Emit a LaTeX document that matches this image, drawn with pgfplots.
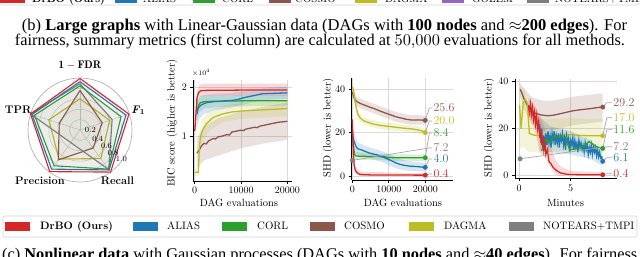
\documentclass[border=0pt]{standalone}
\usepackage{fontspec}
\usepackage{graphicx}
\usepackage{pgfplots}
\pgfplotsset{compat=1.18}
\newfontfamily\capfont{Liberation Serif}
\definecolor{tred}{HTML}{D62728}
\definecolor{tblue}{HTML}{1F77B4}
\definecolor{tgreen}{HTML}{2CA02C}
\definecolor{tbrown}{HTML}{8C564B}
\definecolor{tyellow}{HTML}{BCBD22}
\definecolor{tgray}{HTML}{7F7F7F}
\definecolor{tpurple}{HTML}{9467BD}
\pgfplotsset{
  myax/.style={scale only axis, anchor=south west, axis lines*=left,
    axis line style={black, line width=0.6pt, -}, tick align=outside,
    major tick length=3pt, tick style={black, line width=0.6pt},
    grid=major, grid style={gray!30, line width=0.6pt},
    tick label style={font=\fontsize{10}{12}\selectfont},
    label style={font=\fontsize{10.5}{12}\selectfont},
    /pgf/number format/1000 sep={}, scaled ticks=false, clip=false},
  ln/.style={line width=1.3pt},
  bd/.style={draw=none, fill opacity=0.18},
  mk/.style={only marks, mark=*, mark size=2.2pt},
  rd/.style={data cs=polar, line width=1.1pt, fill opacity=0.04},
}
\tikzset{
  ld/.style={gray!70, line width=0.7pt},
  vl/.style={anchor=west, inner sep=0pt, font=\fontsize{12}{13}\selectfont},
  rt/.style={font=\fontsize{8}{9}\selectfont, inner sep=0pt},
  rl/.style={font=\fontsize{11}{12}\selectfont, inner sep=0pt},
}
\begin{document}
\begin{tikzpicture}
\path[use as bounding box] (0pt,0pt) rectangle (640pt,257pt);
\clip (0pt,0pt) rectangle (640pt,257pt);
\begin{scope}[x=1pt,y=1pt]
% ---- sliver of previous legend
\draw[gray!35, fill=white, rounded corners=2pt, line width=0.6pt] (1,252) rectangle (639,280);
\begin{scope}[font=\fontsize{10.8}{12}\selectfont]
\fill[tred] (0,254.3) rectangle ++(25,12);
\node[anchor=base west, inner sep=0] at (32,254.5) {\textbf{DrBO (Ours)}};
\fill[tblue] (115,254.3) rectangle ++(22,12);
\node[anchor=base west, inner sep=0] at (143,254.5) {ALIAS};
\fill[tgreen] (193,254.3) rectangle ++(22,12);
\node[anchor=base west, inner sep=0] at (222,254.5) {CORL};
\fill[tbrown] (269,254.3) rectangle ++(22,12);
\node[anchor=base west, inner sep=0] at (295,254.5) {COSMO};
\fill[tyellow] (355,254.3) rectangle ++(22,12);
\node[anchor=base west, inner sep=0] at (385,254.5) {DAGMA};
\fill[tpurple] (442,254.3) rectangle ++(22,12);
\node[anchor=base west, inner sep=0] at (472,254.5) {GOLEM};
\fill[tgray] (527,254.3) rectangle ++(22,12);
\node[anchor=base west, inner sep=0] at (555,254.5) {NOTEARS+TMPI};
\end{scope}
% ---- captions
\node[anchor=base, inner sep=0] at (324.5,226) {\resizebox{605pt}{!}{\capfont (b) \textbf{Large graphs} with Linear-Gaussian data (DAGs with \textbf{100 nodes} and $\approx$\textbf{200 edges}). For}};
\node[anchor=base, inner sep=0] at (320,211) {\resizebox{610pt}{!}{\capfont fairness, summary metrics (first column) are calculated at $50{,}000$ evaluations for all methods.}};
\node[anchor=base west, inner sep=0] at (2,-2.5) {\resizebox{635pt}{!}{\capfont (c) \textbf{Nonlinear data} with Gaussian processes (DAGs with \textbf{10 nodes} and $\approx$\textbf{40 edges}). For fairness}};
% ---- radar grid (decoration)
\begin{scope}[shift={(80,127)}]
\foreach \r in {10.4,20.8,31.2,41.6} {\draw[gray!40, line width=0.5pt] (0,0) circle[radius=\r];}
\draw[gray!60, line width=0.7pt] (0,0) circle[radius=52];
\foreach \a in {18,90,162,234,306} {\draw[gray!40, line width=0.5pt] (0,0) -- (\a:52);}
\end{scope}
% ---- main legend
\draw[gray!35, fill=white, rounded corners=2pt, line width=0.6pt] (3,20) rectangle (637,41);
\begin{scope}[font=\fontsize{10.8}{12}\selectfont]
\fill[tred] (5,26) rectangle ++(25,9);
\node[anchor=base west, inner sep=0] at (40,27) {\textbf{DrBO (Ours)}};
\fill[tblue] (133,26) rectangle ++(25,9);
\node[anchor=base west, inner sep=0] at (167,27) {ALIAS};
\fill[tgreen] (222,26) rectangle ++(25,9);
\node[anchor=base west, inner sep=0] at (257,27) {CORL};
\fill[tbrown] (310,26) rectangle ++(25,9);
\node[anchor=base west, inner sep=0] at (344,27) {COSMO};
\fill[tyellow] (409,26) rectangle ++(25,9);
\node[anchor=base west, inner sep=0] at (444,27) {DAGMA};
\fill[tgray] (509,26) rectangle ++(25,9);
\node[anchor=base west, inner sep=0] at (543,27) {NOTEARS+TMPI};
\end{scope}
\end{scope}

% ---- radar data
\begin{axis}[at={(80pt,127pt)}, anchor=center, scale only axis, width=104pt, height=104pt,
  xmin=-1, xmax=1, ymin=-1, ymax=1, hide axis, clip=false]
\addplot[rd, draw=tyellow, fill=tyellow] coordinates {(90,0.60) (18,0.60) (306,0.68) (234,0.69) (162,0.63) (90,0.60)};
\addplot[rd, draw=tbrown, fill=tbrown] coordinates {(90,0.76) (18,0.45) (306,0.43) (234,0.71) (162,0.42) (90,0.76)};
\addplot[rd, draw=tgray, fill=tgray] coordinates {(90,0.89) (18,0.65) (306,0.94) (234,0.30) (162,1.0) (90,0.89)};
\addplot[rd, draw=tgreen, fill=tgreen] coordinates {(90,0.85) (18,0.83) (306,0.93) (234,0.85) (162,0.92) (90,0.85)};
\addplot[rd, draw=tblue, fill=tblue] coordinates {(90,0.93) (18,0.93) (306,0.95) (234,0.93) (162,0.97) (90,0.93)};
\addplot[rd, draw=tred, fill=tred] coordinates {(90,0.99) (18,0.99) (306,1.0) (234,0.99) (162,1.0) (90,0.99)};
\node[rt] at (axis cs:0.2,0) {0.2};
\node[rt] at (axis cs:0.34,-0.165) {0.4};
\node[rt] at (axis cs:0.51,-0.315) {0.6};
\node[rt] at (axis cs:0.64,-0.445) {0.8};
\node[rt] at (axis cs:0.795,-0.555) {1.0};
\node[rl] at (axis cs:0,1.25) {$\mathbf{1-FDR}$};
\node[rl] at (axis cs:1.12,0.38) {\textbf{\textit{F}}\textsubscript{\textbf{1}}};
\node[rl] at (axis cs:-1.19,0.39) {\textbf{TPR}};
\node[rl] at (axis cs:-0.77,-0.98) {\textbf{Precision}};
\node[rl] at (axis cs:0.72,-0.98) {\textbf{Recall}};
\end{axis}

% ---- BIC panel
\begin{axis}[myax, at={(193.3pt,76pt)}, width=98.7pt, height=101pt,
  xmin=-300, xmax=21000, ymin=0.082, ymax=2.143,
  xtick={0,10000,20000}, ytick={1,2},
  xlabel={DAG evaluations}, ylabel={BIC score (higher is better)},
  xlabel style={at={(axis description cs:0.463,-0.213)}, anchor=center},
  ylabel style={at={(axis description cs:-0.216,0.575)}, anchor=center}]
\addplot[bd, fill=tbrown] coordinates {(500,0.35) (2000,0.5) (5000,0.6) (10000,0.75) (15000,0.85) (20000,0.92) (20000,1.68) (15000,1.6) (10000,1.5) (5000,1.36) (2000,1.2) (500,0.95)};
\addplot[bd, fill=tyellow] coordinates {(0,0.18) (800,0.18) (1000,0.55) (1600,0.85) (3000,1.1) (6000,1.28) (10000,1.35) (20000,1.4) (20000,1.72) (10000,1.67) (6000,1.62) (3000,1.5) (1600,1.35) (1000,0.95) (800,0.34) (0,0.34)};
\addplot[bd, fill=tgreen] coordinates {(500,1.3) (1000,1.48) (2000,1.56) (6000,1.6) (20000,1.62) (20000,1.83) (6000,1.82) (2000,1.82) (1000,1.78) (500,1.7)};
\addplot[bd, fill=tblue] coordinates {(500,1.2) (1000,1.35) (2000,1.45) (4000,1.52) (8000,1.58) (12000,1.68) (16000,1.74) (20000,1.76) (20000,2.0) (16000,1.99) (12000,1.94) (8000,1.88) (4000,1.86) (2000,1.84) (1000,1.8) (500,1.7)};
\addplot[bd, fill=tred] coordinates {(0,0.95) (300,1.3) (800,1.78) (2000,1.82) (20000,1.82) (20000,2.07) (2000,2.07) (800,2.03) (300,1.72) (0,1.25)};
\addplot[ln, tbrown] coordinates {(500,0.65) (1000,0.72) (1500,0.8) (2000,0.85) (2500,0.84) (3000,0.9) (4000,0.95) (4500,0.94) (5000,0.98) (6000,1.0) (7000,1.03) (7500,1.02) (8000,1.08) (9000,1.1) (10000,1.12) (10500,1.11) (11000,1.14) (12000,1.16) (13000,1.18) (13500,1.17) (14000,1.2) (15000,1.22) (16000,1.24) (17000,1.26) (18000,1.28) (19000,1.29) (20000,1.30)};
\addplot[ln, tyellow] coordinates {(0,0.26) (800,0.26) (1000,0.75) (1200,0.95) (1600,1.1) (2500,1.25) (4000,1.38) (6000,1.45) (8000,1.49) (10000,1.51) (12000,1.52) (14000,1.53) (16000,1.54) (18000,1.55) (20000,1.56)};
\addplot[ln, tgreen] coordinates {(500,1.5) (800,1.62) (1200,1.68) (2000,1.70) (4000,1.71) (6000,1.71) (7000,1.715) (9000,1.715) (12000,1.72) (20000,1.72)};
\addplot[ln, tblue] coordinates {(500,1.45) (700,1.55) (1000,1.6) (1500,1.64) (2500,1.68) (4000,1.70) (5500,1.71) (7000,1.72) (8500,1.73) (9500,1.75) (10500,1.78) (11500,1.80) (12500,1.82) (13500,1.84) (14500,1.86) (15500,1.865) (17000,1.87) (18500,1.875) (20000,1.88)};
\addplot[ln, tred] coordinates {(0,1.10) (150,1.25) (300,1.5) (500,1.78) (800,1.88) (1200,1.92) (2000,1.93) (4000,1.935) (8000,1.935) (12000,1.94) (16000,1.94) (20000,1.94)};
\node[anchor=south west, inner sep=0, font=\fontsize{7}{8}\selectfont] at (rel axis cs:-0.015,1.03) {$\times10^{4}$};
\end{axis}

% ---- SHD vs DAG evaluations
\begin{axis}[myax, at={(351.7pt,77pt)}, width=101.3pt, height=102pt,
  xmin=-160, xmax=27590, ymin=-1.84, ymax=45.06,
  xtick={0,10000,20000}, ytick={0,20,40},
  xlabel={DAG evaluations}, ylabel={SHD (lower is better)},
  xlabel style={at={(axis description cs:0.506,-0.22)}, anchor=center},
  ylabel style={at={(axis description cs:-0.234,0.51)}, anchor=center}]
\addplot[bd, fill=tbrown] coordinates {(0,36) (1000,32.3) (2000,31.3) (4000,30) (6000,28.8) (8000,27.4) (10000,26.2) (12000,25) (14000,24.2) (16000,23.6) (18000,23.6) (20000,23.6) (20000,27.6) (18000,28) (16000,28) (14000,28.6) (12000,29.4) (10000,30.6) (8000,31.8) (6000,33.2) (4000,34.4) (2000,35.7) (1000,36.7) (0,41)};
\addplot[bd, fill=tyellow] coordinates {(0,39) (300,37.5) (600,33.5) (1000,30) (1500,26.5) (2000,25.2) (3000,23.8) (5000,22.6) (8000,21.6) (10000,21.2) (12000,20.8) (14000,20.4) (16000,20.1) (18000,19.6) (20000,18.5) (20000,21.5) (18000,22.8) (16000,23.3) (14000,23.6) (12000,24) (10000,24.4) (8000,24.8) (5000,26) (3000,27.2) (2000,28.8) (1500,30.5) (1000,34) (600,38.5) (300,42.5) (0,43)};
\addplot[bd, fill=tgreen] coordinates {(0,16) (300,11) (600,8) (1000,7.5) (5000,7.4) (10000,7) (20000,7) (20000,9.8) (10000,10) (5000,10.6) (1000,11) (600,12) (300,17) (0,24)};
\addplot[bd, fill=tblue] coordinates {(0,16) (700,11) (1500,9.5) (4000,8.5) (6000,7.5) (8000,6.5) (10000,5) (12000,3.5) (14000,2.7) (16000,2.3) (20000,2) (20000,6) (16000,6.7) (14000,7.3) (12000,8.5) (10000,10.2) (8000,11.5) (6000,12.5) (4000,13.5) (1500,15.5) (700,19) (0,24)};
\addplot[bd, fill=tred] coordinates {(0,20) (300,6) (800,1.5) (2000,0) (20000,0) (20000,1.2) (2000,2) (800,4.5) (300,14) (0,30)};
\addplot[ln, tbrown] coordinates {(0,38.5) (500,36) (1000,34.5) (2000,33.5) (3000,32.8) (4000,32.2) (5000,31.5) (6000,31) (7000,30.3) (8000,29.6) (9000,29) (10000,28.4) (11000,27.8) (12000,27.2) (13000,26.8) (14000,26.4) (15000,26) (16000,25.8) (17000,25.7) (18000,25.8) (19000,25.7) (20000,25.6)};
\addplot[ln, tyellow] coordinates {(0,41) (300,40) (600,36) (1000,32) (1500,28.5) (2000,27) (3000,25.5) (4000,24.8) (5000,24.3) (6000,23.8) (8000,23.2) (10000,22.8) (12000,22.4) (14000,22) (16000,21.7) (18000,21.2) (19000,20.8) (20000,20.0)};
\addplot[ln, tgreen] coordinates {(0,20) (300,14) (600,10) (1000,9.2) (2000,9.1) (4000,9.0) (6000,9.0) (8000,8.9) (9000,8.8) (10000,8.5) (12000,8.4) (16000,8.4) (20000,8.4)};
\addplot[ln, tblue] coordinates {(0,20) (300,17) (700,15) (1000,13.5) (1500,12.5) (2500,12) (4000,11) (5000,10.4) (6000,10) (7000,9.6) (8000,9) (9000,8.3) (10000,7.6) (11000,6.8) (12000,6) (13000,5.4) (14000,5) (15000,4.7) (16000,4.5) (17000,4.4) (18000,4.3) (19000,4.1) (20000,4.0)};
\addplot[ln, tred] coordinates {(0,26) (150,18) (300,10) (500,5) (800,2.8) (1200,1.6) (2000,0.8) (3000,0.6) (5000,0.5) (10000,0.45) (15000,0.42) (20000,0.4)};
\draw[ld] (axis cs:20000,25.6) -- (axis cs:21100,31.3) -- (axis cs:21900,31.3);
\draw[ld] (axis cs:20000,20.0) -- (axis cs:21100,25.3) -- (axis cs:21900,25.3);
\draw[ld] (axis cs:20000,8.4) -- (axis cs:21100,19.8) -- (axis cs:21900,19.8);
\draw[ld] (axis cs:0,7.2) -- (axis cs:21100,12.9) -- (axis cs:21900,12.9);
\draw[ld] (axis cs:20000,4.0) -- (axis cs:21100,7.8) -- (axis cs:21900,7.8);
\draw[ld] (axis cs:20000,0.4) -- (axis cs:21100,0.9) -- (axis cs:21900,0.9);
\addplot[mk, tbrown] coordinates {(20000,25.6)};
\addplot[mk, tyellow] coordinates {(20000,20.0)};
\addplot[mk, tgreen] coordinates {(20000,8.4)};
\addplot[mk, tgray] coordinates {(0,7.2)};
\addplot[mk, tblue] coordinates {(20000,4.0)};
\addplot[mk, tred] coordinates {(20000,0.4)};
\node[vl, text=tbrown] at (axis cs:22200,31.3) {25.6};
\node[vl, text=tyellow] at (axis cs:22200,25.3) {20.0};
\node[vl, text=tgreen] at (axis cs:22200,19.8) {8.4};
\node[vl, text=tgray] at (axis cs:22200,12.9) {7.2};
\node[vl, text=tblue] at (axis cs:22200,7.8) {4.0};
\node[vl, text=tred] at (axis cs:22200,0.9) {0.4};
\end{axis}

% ---- SHD vs minutes
\begin{axis}[myax, at={(515pt,78.7pt)}, width=102pt, height=99.3pt,
  xmin=-0.39, xmax=9.48, ymin=-1.1, ymax=41.15,
  xtick={0,5}, ytick={0,20,40},
  xlabel={Minutes}, ylabel={SHD (lower is better)},
  xlabel style={at={(axis description cs:0.495,-0.245)}, anchor=center},
  ylabel style={at={(axis description cs:-0.255,0.506)}, anchor=center}]
\addplot[bd, fill=tbrown] coordinates {(0.1,34) (0.5,28) (1.2,22) (2.2,19) (3.4,19.5) (5.2,21.5) (7,22.5) (8.1,23) (8.1,35) (7,34.6) (5.2,33.6) (3.4,32) (2.2,32) (1.2,33.5) (0.5,37) (0.1,39.5)};
\addplot[bd, fill=tyellow] coordinates {(0.05,12) (0.5,12) (1.0,10) (2,10) (5,10.5) (8.1,10) (8.1,24) (5,24.5) (2,24) (1.0,26) (0.5,37) (0.05,38)};
\addplot[bd, fill=tblue] coordinates {(2.0,11) (3,10) (5,9) (7,7) (8.1,4) (8.1,10) (7,15) (5,19) (3,21) (2.0,25)};
\addplot[bd, fill=tred] coordinates {(0.9,26) (1.5,20) (2.0,10) (2.5,8) (3.0,4) (3.5,0.5) (4,0) (8.1,0) (8.1,1.5) (5,2) (4,4) (3.5,7) (3.0,13) (2.5,20) (2.0,26) (1.5,30) (0.9,33)};
\addplot[ln, tbrown] coordinates {(0.1,36.8) (0.25,35.5) (0.5,32.5) (0.8,30) (1.2,27.8) (1.6,26.5) (2.2,25.8) (2.8,25.5) (3.4,25.8) (4.0,26.4) (4.6,27.0) (5.2,27.6) (5.8,28.0) (6.4,28.3) (7.0,28.6) (7.6,29.0) (8.1,29.2)};
\addplot[ln, tyellow] coordinates {(0.05,30) (0.2,20) (0.4,31) (0.6,32.5) (0.8,31) (1.0,18) (1.4,17.3) (2,17) (3,17) (4,17.1) (5,17.5) (6,17.1) (7,17) (8.1,17.0)};
\addplot[ln, tblue] coordinates {(2.0,22) (2.1,14) (2.2,20) (2.3,11) (2.4,17) (2.5,12) (2.6,18) (2.7,13) (2.8,19) (2.9,14) (3.0,17) (3.1,12) (3.2,18) (3.3,15) (3.4,19) (3.5,13) (3.6,17) (3.7,14) (3.8,18) (3.9,12) (4.0,17) (4.1,15) (4.2,18) (4.3,13) (4.4,16) (4.5,11) (4.6,17) (4.7,14) (4.8,16) (4.9,10) (5.0,15) (5.1,13) (5.2,16) (5.3,11) (5.4,15) (5.5,12) (5.6,14) (5.7,10) (5.8,15) (5.9,12) (6.0,14) (6.1,11) (6.2,13) (6.3,10) (6.4,14) (6.5,11) (6.6,13) (6.7,9) (6.8,12) (6.9,10) (7.0,13) (7.1,9) (7.2,12) (7.3,10) (7.4,12) (7.5,8.5) (7.6,11) (7.7,8) (7.8,10) (7.9,7.5) (8.0,8) (8.1,6.1)};
\addplot[ln, tgreen] coordinates {(2.2,10.5) (2.6,15.5) (3.0,14) (3.3,16.5) (4.5,16.5) (4.9,11) (5.5,11.5) (6.2,12.5) (6.8,14.5) (7.4,12.5) (8.1,11.6)};
\addplot[ln, tred] coordinates {(0.9,30) (1.0,27) (1.1,30.5) (1.2,26) (1.3,29) (1.4,24) (1.5,27) (1.6,22) (1.7,25.5) (1.8,20) (1.9,23) (2.0,16) (2.1,20) (2.2,13) (2.3,17) (2.4,11) (2.5,14) (2.6,9) (2.75,11) (2.9,6) (3.1,5) (3.3,3.5) (3.6,2.3) (4.0,1.2) (4.5,0.7) (5,0.5) (6,0.45) (7,0.4) (8.1,0.4)};
\draw[ld] (axis cs:8.1,29.2) -- (axis cs:8.5,31.1) -- (axis cs:9.0,31.1);
\draw[ld] (axis cs:8.1,17.0) -- (axis cs:8.5,24.7) -- (axis cs:9.0,24.7);
\draw[ld] (axis cs:8.1,11.6) -- (axis cs:8.5,19.6) -- (axis cs:9.0,19.6);
\draw[ld] (axis cs:0.1,7.2) -- (axis cs:8.5,12.3) -- (axis cs:9.0,12.3);
\draw[ld] (axis cs:8.1,6.1) -- (axis cs:8.5,7.7) -- (axis cs:9.0,7.7);
\draw[ld] (axis cs:8.1,0.4) -- (axis cs:8.5,0.85) -- (axis cs:9.0,0.85);
\addplot[mk, tbrown] coordinates {(8.1,29.2)};
\addplot[mk, tyellow] coordinates {(8.1,17.0)};
\addplot[mk, tgreen] coordinates {(8.1,11.6)};
\addplot[mk, tgray] coordinates {(0.1,7.2)};
\addplot[mk, tblue] coordinates {(8.1,6.1)};
\addplot[mk, tred] coordinates {(8.1,0.4)};
\node[vl, text=tbrown] at (axis cs:9.12,31.1) {29.2};
\node[vl, text=tyellow] at (axis cs:9.12,24.7) {17.0};
\node[vl, text=tgreen] at (axis cs:9.12,19.6) {11.6};
\node[vl, text=tgray] at (axis cs:9.12,12.3) {7.2};
\node[vl, text=tblue] at (axis cs:9.12,7.7) {6.1};
\node[vl, text=tred] at (axis cs:9.12,0.85) {0.4};
\end{axis}
\end{tikzpicture}
\end{document}
